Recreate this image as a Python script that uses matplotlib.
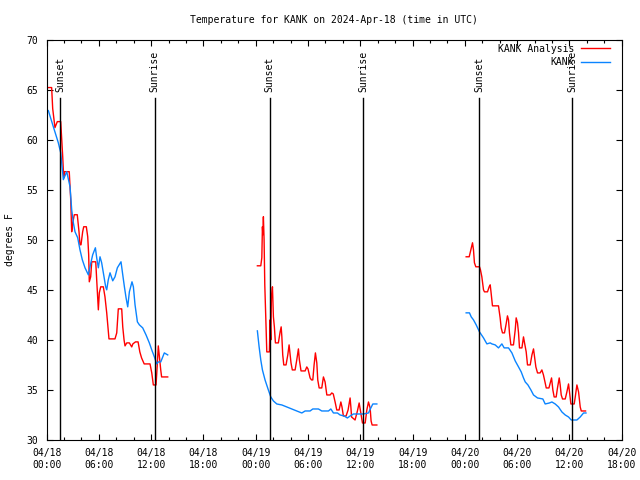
import numpy as np
import matplotlib
matplotlib.use("Agg")
import matplotlib.pyplot as plt
import matplotlib.dates as mdates
from datetime import datetime, timedelta

plt.rcParams["font.family"] = ["DejaVu Sans Mono"]
plt.rcParams["font.size"] = 7

base = datetime(2024, 4, 18)

# KANK Analysis (red), hours since 04/18 00:00 UTC, one list per run
ana_h1 = [0.08, 0.58, 0.7, 0.96, 1.23, 1.62, 1.85, 1.92, 2.0, 2.05, 2.6, 2.69, 2.77, 2.88, 3.0, 3.18, 3.52,
          3.72, 3.83, 3.95, 4.14, 4.26, 4.56, 4.72, 4.83, 4.9, 5.06, 5.18, 5.64, 5.75, 5.94, 6.05,
          6.21, 6.51, 6.7, 6.9, 7.16, 7.85, 8.05, 8.23, 8.62, 8.74, 8.89, 9.0, 9.2, 9.5, 9.77, 9.9,
          10.2, 10.5, 10.7, 10.9, 11.2, 11.87, 12.07, 12.25, 12.56, 12.7, 12.82, 12.95, 13.1, 13.2, 13.9]
ana_v1 = [65.2, 65.2, 63.1, 61.2, 61.8, 61.8, 58.3, 57.0, 56.2, 56.8, 56.8, 55.3, 54.0, 50.8, 51.7, 52.5, 52.5,
          50.8, 49.5, 49.5, 50.8, 51.3, 51.3, 50.3, 48.5, 45.8, 46.3, 47.8, 47.8, 46.0, 43.0, 44.7,
          45.3, 45.3, 44.3, 42.7, 40.1, 40.1, 40.7, 43.1, 43.1, 41.3, 40.0, 39.4, 39.7, 39.7, 39.3, 39.6,
          39.8, 39.8, 38.8, 38.2, 37.6, 37.6, 36.7, 35.5, 35.5, 37.5, 39.4, 38.3, 37.0, 36.3, 36.3]

ana_h2 = [24.19, 24.58, 24.7, 24.77, 24.82, 24.88, 24.96, 25.04, 25.19, 25.27, 25.57, 25.65, 25.73, 25.8,
          25.92, 26.03, 26.14, 26.26, 26.6, 26.8, 26.92, 27.0, 27.1, 27.22, 27.48, 27.68, 27.83, 27.95,
          28.05, 28.2, 28.52, 28.71, 28.9, 29.01, 29.2, 29.67, 29.86, 30.0, 30.24, 30.4, 30.55, 30.7,
          30.85, 31.01, 31.12, 31.28, 31.58, 31.77, 31.96, 32.16, 32.54, 32.73, 32.9, 33.11, 33.3,
          33.57, 33.77, 33.9, 34.06, 34.37, 34.6, 34.83, 34.92, 35.0, 35.4, 35.67, 35.87, 36.06, 36.25,
          36.56, 36.75, 36.94, 37.13, 37.24, 37.36, 37.9]
ana_v2 = [47.4, 47.4, 48.2, 51.3, 50.5, 52.3, 50.0, 45.5, 41.2, 38.8, 38.8, 42.0, 40.0, 44.3,
          45.3, 42.3, 41.3, 39.7, 39.7, 40.8, 41.3, 40.3, 38.5, 37.5, 37.5, 38.5, 39.5, 38.5,
          37.7, 37.0, 37.0, 38.0, 39.1, 38.0, 36.9, 36.9, 37.3, 37.1, 36.2, 36.0, 36.0, 37.5,
          38.7, 37.7, 36.0, 35.2, 35.2, 36.3, 35.8, 34.5, 34.5, 34.7, 34.6, 33.8, 33.0,
          33.0, 33.8, 33.3, 32.4, 32.4, 33.0, 34.2, 33.3, 32.3, 32.0, 32.9, 33.7, 32.7, 31.7,
          31.7, 33.0, 33.8, 33.2, 31.9, 31.5, 31.5]

ana_h3 = [48.15, 48.5, 48.69, 48.88, 48.99, 49.1, 49.26, 49.68, 49.79, 49.95, 50.14, 50.25, 50.6, 50.79,
          50.91, 51.0, 51.17, 51.86, 52.05, 52.17, 52.32, 52.55, 52.74, 52.89, 53.01, 53.12, 53.28,
          53.58, 53.78, 53.89, 54.04, 54.16, 54.27, 54.55, 54.73, 54.85, 55.04, 55.19, 55.5, 55.7,
          55.88, 56.0, 56.15, 56.34, 56.64, 56.84, 57.02, 57.22, 57.34, 57.65, 57.8, 57.95, 58.1,
          58.25, 58.48, 58.63, 58.83, 58.94, 59.06, 59.21, 59.52, 59.71, 59.9, 60.01, 60.17, 60.55,
          60.67, 60.86, 61.05, 61.24, 61.36, 61.85]
ana_v3 = [48.3, 48.3, 49.0, 49.7, 49.0, 47.7, 47.3, 47.3, 47.0, 46.3, 45.0, 44.8, 44.8, 45.3,
          45.5, 44.8, 43.4, 43.4, 42.2, 41.2, 40.7, 40.7, 41.6, 42.4, 42.0, 40.7, 39.5,
          39.5, 41.0, 42.2, 41.7, 40.7, 39.2, 39.2, 40.3, 39.7, 38.8, 37.5, 37.5, 38.5,
          39.1, 38.3, 37.3, 36.7, 36.7, 37.0, 36.5, 35.7, 35.2, 35.2, 35.7, 36.2, 35.0,
          34.3, 34.3, 35.2, 36.2, 35.5, 34.5, 34.1, 34.1, 34.8, 35.6, 34.8, 33.6, 33.6,
          34.3, 35.5, 34.8, 33.3, 32.9, 32.9]

# KANK observations (blue)
obs_h1 = [0.2, 0.77, 1.34, 1.62, 1.92, 2.31, 2.69, 2.88, 3.07, 3.26, 3.57, 3.83, 4.1, 4.41, 4.79, 4.98,
          5.29, 5.6, 5.75, 5.94, 6.13, 6.32, 6.59, 6.78, 6.9, 7.08, 7.28, 7.59, 7.85, 8.12, 8.54,
          8.74, 8.93, 9.12, 9.31, 9.5, 9.8, 9.96, 10.15, 10.42, 10.65, 11.03, 11.41, 11.79, 12.07,
          12.37, 12.64, 12.82, 13.1, 13.33, 13.51, 13.9]
obs_v1 = [62.9, 61.3, 59.7, 58.7, 56.0, 56.8, 55.3, 53.0, 51.7, 50.8, 50.2, 49.0, 48.0, 47.2, 46.5, 47.3,
          48.5, 49.2, 48.2, 47.2, 48.3, 47.7, 46.3, 45.3, 45.0, 46.0, 46.7, 45.9, 46.3, 47.2, 47.8,
          46.5, 45.3, 44.2, 43.3, 44.8, 45.8, 45.3, 43.5, 41.8, 41.5, 41.2, 40.5, 39.7, 39.0,
          38.3, 37.6, 37.8, 37.8, 38.3, 38.7, 38.5]

obs_h2 = [24.19, 24.39, 24.58, 24.77, 25.07, 25.45, 25.73, 26.03, 26.42, 27.0, 27.57, 28.14, 28.71,
          29.29, 29.67, 30.24, 30.55, 31.2, 31.58, 32.35, 32.62, 32.92, 33.38, 33.68, 34.14, 34.52,
          34.83, 35.21, 36.36, 36.94, 37.21, 37.44, 37.9]
obs_v2 = [40.9, 39.3, 38.0, 37.0, 36.0, 35.0, 34.3, 33.9, 33.6, 33.5, 33.3, 33.1, 32.9,
          32.7, 32.9, 32.9, 33.1, 33.1, 32.9, 32.9, 33.1, 32.7, 32.7, 32.5, 32.4, 32.2,
          32.4, 32.6, 32.6, 32.7, 33.2, 33.6, 33.6]

obs_h3 = [48.15, 48.53, 48.73, 48.99, 49.3, 49.68, 50.14, 50.53, 50.91, 51.1, 51.48, 51.86, 52.25,
          52.51, 53.01, 53.4, 53.78, 54.16, 54.47, 54.73, 54.93, 55.24, 55.58, 55.88, 56.34, 56.95,
          57.22, 57.71, 57.99, 58.37, 58.75, 59.14, 59.52, 59.9, 60.21, 60.86, 61.24, 61.62, 61.9]
obs_v3 = [42.7, 42.7, 42.3, 42.0, 41.5, 40.8, 40.2, 39.6, 39.7, 39.6, 39.5, 39.2, 39.6,
          39.2, 39.2, 38.7, 37.9, 37.3, 36.8, 36.2, 35.8, 35.5, 35.0, 34.5, 34.2, 34.1,
          33.6, 33.7, 33.8, 33.6, 33.3, 32.8, 32.5, 32.3, 32.0, 32.0, 32.3, 32.7, 32.7]

sunsets = ["2024-04-18 01:35", "2024-04-19 01:36", "2024-04-20 01:38"]
sunrises = ["2024-04-18 12:24", "2024-04-19 12:22", "2024-04-20 12:20"]


def to_time(hours):
    return [base + timedelta(hours=h) for h in hours]


fig = plt.figure(figsize=(6.4, 4.8), dpi=100)
ax = fig.add_axes([0.0728, 0.0833, 0.8986, 0.8344])

red = "#ff0000"
blue = "#0a84ff"
for i, (h, v) in enumerate([(ana_h1, ana_v1), (ana_h2, ana_v2), (ana_h3, ana_v3)]):
    ax.plot(to_time(h), v, color=red, lw=1.0, label="KANK Analysis" if i == 0 else None)
for i, (h, v) in enumerate([(obs_h1, obs_v1), (obs_h2, obs_v2), (obs_h3, obs_v3)]):
    ax.plot(to_time(h), v, color=blue, lw=1.0, label="KANK" if i == 0 else None)

for lab, times in [("Sunset", sunsets), ("Sunrise", sunrises)]:
    for t in times:
        tt = datetime.strptime(t, "%Y-%m-%d %H:%M")
        ax.plot([tt, tt], [30, 64.2], color="black", lw=1.0)
        ax.text(tt, 64.8, lab, rotation=90, ha="center", va="bottom")

ax.set_xlim(base, base + timedelta(hours=66))
ax.set_ylim(30, 70)
ax.yaxis.set_major_locator(plt.MultipleLocator(5))
ax.xaxis.set_major_locator(mdates.HourLocator(byhour=[0, 6, 12, 18]))
ax.xaxis.set_minor_locator(mdates.HourLocator(interval=2))
ax.xaxis.set_major_formatter(mdates.DateFormatter("%m/%d\n%H:%M"))
ax.tick_params(which="both", direction="in", top=True, right=True, width=0.8)
ax.tick_params(which="major", length=4, pad=6)
ax.tick_params(which="minor", length=2)
for s in ax.spines.values():
    s.set_linewidth(0.8)

ax.set_title("Temperature for KANK on 2024-Apr-18 (time in UTC)", fontsize=7, pad=12)
ax.set_ylabel("degrees F", labelpad=8)

ax.legend(loc="upper right", bbox_to_anchor=(1 - 11.7 / 575, 1 - 4.0 / 400), borderaxespad=0,
          borderpad=0, frameon=False, markerfirst=False, handlelength=3.0, handletextpad=0.7,
          labelspacing=0.35)

fig.savefig("out.png", dpi=100)
